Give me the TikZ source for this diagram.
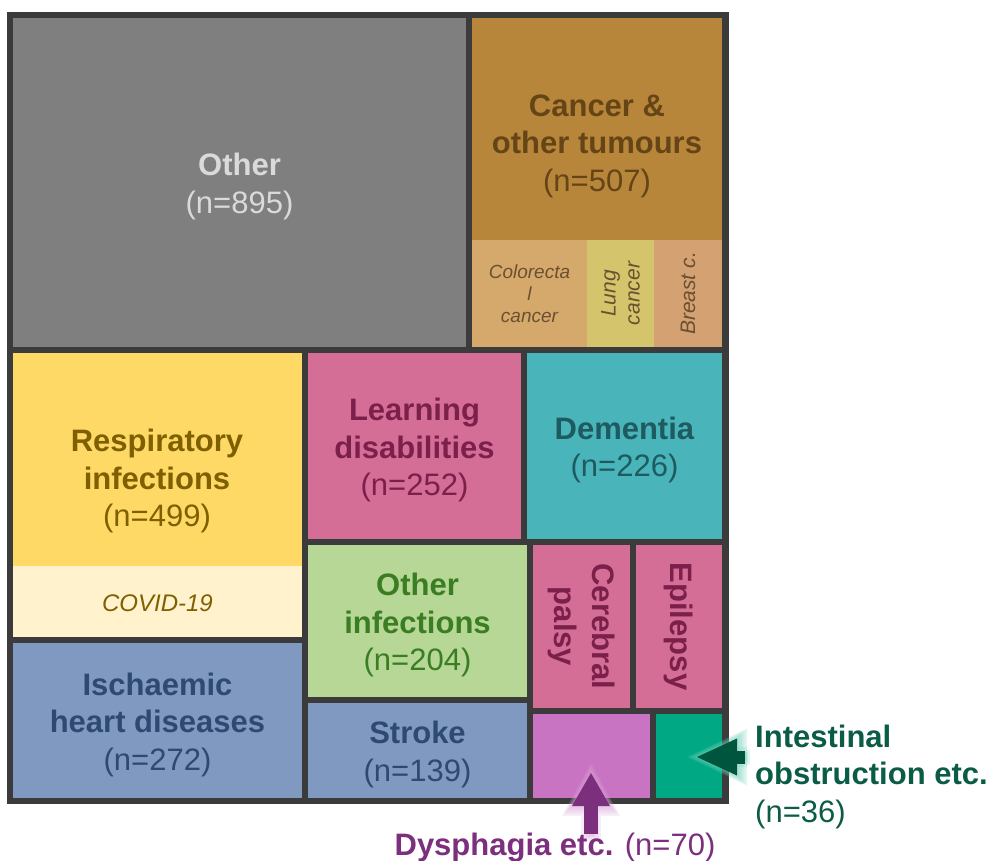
\documentclass[tikz,border=0pt]{standalone}
\usepackage{fontspec}
\setmainfont{Liberation Sans}
\usetikzlibrary{arrows.meta}

\definecolor{frameC}{HTML}{3B3B3B}
\definecolor{otherF}{HTML}{7F7F7F}
\definecolor{otherT}{HTML}{DADADA}
\definecolor{cancerF}{HTML}{B8863B}
\definecolor{cancerT}{HTML}{654516}
\definecolor{coloF}{HTML}{D5A96C}
\definecolor{lungF}{HTML}{D4C46C}
\definecolor{breastF}{HTML}{D4A172}
\definecolor{subT}{HTML}{6B5030}
\definecolor{respF}{HTML}{FFD966}
\definecolor{respT}{HTML}{7F6000}
\definecolor{covidF}{HTML}{FFF2CC}
\definecolor{ischF}{HTML}{7F99C1}
\definecolor{ischT}{HTML}{2E4A73}
\definecolor{learnF}{HTML}{D56E96}
\definecolor{learnT}{HTML}{7B1F4B}
\definecolor{demF}{HTML}{4AB4BB}
\definecolor{demT}{HTML}{1E5B60}
\definecolor{infF}{HTML}{B6D796}
\definecolor{infT}{HTML}{3B7D22}
\definecolor{dysF}{HTML}{C974C3}
\definecolor{dysA}{HTML}{7C2F7D}
\definecolor{dysG}{HTML}{D9A3D6}
\definecolor{intF}{HTML}{00A884}
\definecolor{intA}{HTML}{00553F}
\definecolor{intG}{HTML}{6FD0B8}
\definecolor{intT}{HTML}{0B5C46}

\begin{document}
\begin{tikzpicture}[x=1pt, y=-1pt,
  cell/.style={anchor=north west, inner sep=0pt, outer sep=0pt},
  lbl/.style={inner sep=0pt, align=center, font=\fontsize{31}{37.5}\selectfont},
  ctr/.style={lbl, yshift=-4pt},
  sublbl/.style={inner sep=0pt, align=center, text=subT,
                 font=\itshape\fontsize{19}{22}\selectfont},
  arrD/.style={draw=dysA, line width=14pt,
               -{Triangle[length=33pt, width=38pt, line width=0pt]}},
  arrI/.style={draw=intA, line width=13pt,
               -{Triangle[length=40pt, width=37pt, line width=0pt]}},
  glowD/.style={draw=dysG, line width=#1, opacity=0.2,
                -{Triangle[length=33pt+#1, width=38pt+#1, line width=0pt]},
                shorten >=-#1/2, shorten <=-#1/3},
  glowI/.style={draw=intG, line width=#1, opacity=0.2,
                -{Triangle[length=40pt+#1, width=37pt+#1, line width=0pt]},
                shorten >=-#1/2, shorten <=-#1/3},
]
\useasboundingbox (0,0) rectangle (994,861);

% frame behind the cells
\fill[frameC] (7,12) rectangle (729,804);

% top row
\node[cell, fill=otherF, minimum width=453pt, minimum height=329pt] (other) at (13,18) {};
\node[ctr, text=otherT] (otherl) at (other.center) {\textbf{Other}\\(n=895)};
\node[cell, fill=cancerF, minimum width=250pt, minimum height=222pt] (cancer) at (472,18) {};
\node[lbl, text=cancerT] (cancerl) at (597,146) {\textbf{Cancer \&}\\\textbf{other tumours}\\(n=507)};
\node[cell, fill=coloF, minimum width=115pt, minimum height=107pt] (colo) at (472,240) {};
\node[sublbl] (colol) at (colo.center) {Colorecta\\l\\cancer};
\node[cell, fill=lungF, minimum width=67pt, minimum height=107pt] (lung) at (587,240) {};
\node[sublbl, rotate=90, font=\itshape\fontsize{21}{24}\selectfont] (lungl) at (lung.center) {Lung\\cancer};
\node[cell, fill=breastF, minimum width=68pt, minimum height=107pt] (breast) at (654,240) {};
\node[sublbl, rotate=90, font=\itshape\fontsize{21}{24}\selectfont] (breastl) at (breast.center) {Breast c.};

% left column
\node[cell, fill=respF, minimum width=289pt, minimum height=213pt] (resp) at (13,353) {};
\node[lbl, text=respT] (respl) at (157,481) {\textbf{Respiratory}\\\textbf{infections}\\(n=499)};
\node[cell, fill=covidF, minimum width=289pt, minimum height=71pt] (covid) at (13,566) {};
\node[lbl, text=respT, yshift=-2pt, font=\itshape\fontsize{24}{28}\selectfont] (covidl) at (covid.center) {COVID-19};
\node[cell, fill=ischF, minimum width=289pt, minimum height=155pt] (isch) at (13,643) {};
\node[ctr, text=ischT] (ischl) at (isch.center) {\textbf{Ischaemic}\\\textbf{heart diseases}\\(n=272)};

% middle column
\node[cell, fill=learnF, minimum width=213pt, minimum height=186pt] (learn) at (308,353) {};
\node[ctr, text=learnT] (learnl) at (learn.center) {\textbf{Learning}\\\textbf{disabilities}\\(n=252)};
\node[cell, fill=infF, minimum width=219pt, minimum height=152pt] (oinf) at (308,545) {};
\node[ctr, text=infT] (oinfl) at (oinf.center) {\textbf{Other}\\\textbf{infections}\\(n=204)};
\node[cell, fill=ischF, minimum width=219pt, minimum height=95pt] (stroke) at (308,703) {};
\node[ctr, text=ischT] (strokel) at (stroke.center) {\textbf{Stroke}\\(n=139)};

% right column
\node[cell, fill=demF, minimum width=195pt, minimum height=186pt] (dem) at (527,353) {};
\node[ctr, text=demT] (deml) at (dem.center) {\textbf{Dementia}\\(n=226)};
\node[cell, fill=learnF, minimum width=97pt, minimum height=163pt] (cp) at (533,545) {};
\node[lbl, text=learnT, rotate=-90] (cpl) at (cp.center) {\textbf{Cerebral}\\\textbf{palsy}};
\node[cell, fill=learnF, minimum width=86pt, minimum height=163pt] (epi) at (636,545) {};
\node[lbl, text=learnT, rotate=-90] (epil) at (epi.center) {\textbf{Epilepsy}};
\node[cell, fill=dysF, minimum width=117pt, minimum height=84pt] (dys) at (533,714) {};
\node[cell, fill=intF, minimum width=66pt, minimum height=84pt] (intest) at (656,714) {};

% call-out arrows with soft glow
\coordinate (dysTail) at (591,834);
\coordinate (dysTip) at (591,773);
\coordinate (intTail) at (745,757);
\coordinate (intTip) at (697,757);
\foreach \w in {20pt,15pt,10pt,5pt} {
  \draw[glowD=\w] (dysTail) -- (dysTip);
  \draw[glowI=\w] (intTail) -- (intTip);
}
\draw[arrD] (dysTail) -- (dysTip);
\draw[arrI] (intTail) -- (intTip);

% outside labels
\node[lbl, text=dysA] (dysl) at (555,848) {\textbf{Dysphagia etc.} (n=70)};
\node[lbl, text=intT, anchor=west, align=left] (intl) at (755,776.5)
  {\textbf{Intestinal}\\\textbf{obstruction etc.}\\(n=36)};

\end{tikzpicture}
\end{document}
